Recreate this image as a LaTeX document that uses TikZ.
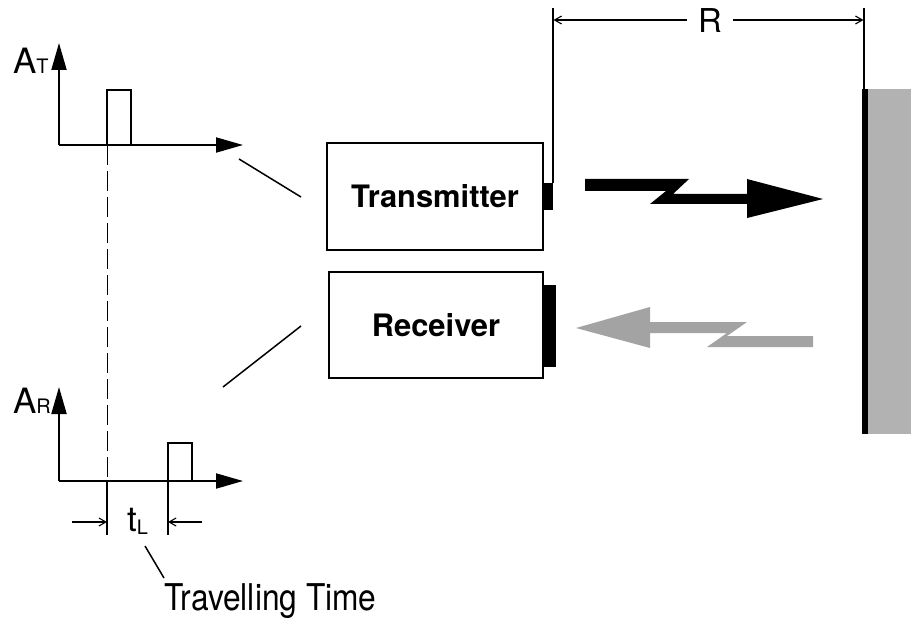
\documentclass[tikz,border=0pt]{standalone}
\usepackage{fontspec}
\usepackage{graphicx}
\setmainfont{TeX Gyre Heros}
\usetikzlibrary{arrows.meta}
\definecolor{sig}{gray}{0.64}
\definecolor{wallc}{gray}{0.70}
\begin{document}
\begin{tikzpicture}[x=1bp,y=-1bp,
  axis/.style={line width=2bp,-{Triangle[length=27bp,width=15bp]}},
  pulse/.style={line width=1.8bp},
  dim/.style={line width=1.1bp,-{Straight Barb[length=7bp,width=8bp]}},
  lead/.style={line width=1.5bp},
  box/.style={draw,line width=2bp,rectangle,inner sep=0pt,font=\fontsize{31}{36}\selectfont\bfseries},
  lbl/.style={inner sep=0pt,anchor=base west}]
\useasboundingbox (0,0) rectangle (911,618);
% ---- top graph
\coordinate (oT) at (59,145);
\coordinate (yT) at (59,43);
\coordinate (xT) at (243,145);
\draw[axis] (oT) -- (yT);
\draw[axis] (oT) -- (xT);
\draw[pulse] (107,145) -- (107,90) -- (131,90) -- (131,145);
\node[lbl] (AT) at (13,74) {\fontsize{35}{35}\selectfont A\fontsize{20}{20}\selectfont T};
% ---- bottom graph
\coordinate (oR) at (59,481);
\coordinate (yR) at (59,387);
\coordinate (xR) at (243,481);
\draw[axis] (oR) -- (yR);
\draw[axis] (oR) -- (xR);
\draw[pulse] (168,481) -- (168,443) -- (192,443) -- (192,481);
\node[lbl] (AR) at (13,413) {\fontsize{35}{35}\selectfont A\fontsize{20}{20}\selectfont R};
% ---- dashed time marker
\coordinate (d1) at (107,145);
\coordinate (d2) at (107,481);
\coordinate (d3) at (107,535);
\coordinate (e2) at (168,535);
\draw[line width=1bp,dash pattern=on 20bp off 6bp] (d1) -- (d2);
\draw[line width=1.3bp] (d2) -- (d3);
\draw[line width=1.3bp] (168,481) -- (e2);
\coordinate (la) at (72,522);
\coordinate (lb) at (107,522);
\coordinate (ra) at (202,522);
\coordinate (rb) at (168,522);
\draw[dim] (la) -- (lb);
\draw[dim] (ra) -- (rb);
\node[lbl] (tL) at (127,531) {\fontsize{35}{35}\selectfont t\raisebox{-3bp}{\fontsize{20}{20}\selectfont L}};
\coordinate (t1) at (145,546);
\coordinate (t2) at (164,578);
\draw[lead] (t1) -- (t2);
\node[lbl] (TT) at (164,610) {\scalebox{0.86}[1]{\fontsize{37}{37}\selectfont Travelling Time}};
% ---- boxes
\node[box,minimum width=216bp,minimum height=107bp] (tx) at (435,196.5) {Transmitter};
\node[box,minimum width=214bp,minimum height=106bp] (rx) at (436,325) {Receiver};
\fill (543,183) rectangle (553,210);
\fill (543,285) rectangle (556,367);
% leader lines
\coordinate (l1a) at (239,159);
\coordinate (l1b) at (301,197);
\coordinate (l2a) at (301,326);
\coordinate (l2b) at (223,387);
\draw[lead] (l1a) -- (l1b);
\draw[lead] (l2a) -- (l2b);
% ---- range R
\coordinate (r0) at (553,183);
\coordinate (r0t) at (553,8);
\coordinate (r1t) at (864,8);
\coordinate (r1) at (864,89);
\draw[line width=1.1bp] (r0) -- (r0t);
\draw[line width=1.1bp] (r1) -- (r1t);
\node[inner sep=0pt,anchor=base] (R) at (710,33) {\fontsize{33}{33}\selectfont R};
\draw[dim] (687,20) -- (553.5,20);
\draw[dim] (733,20) -- (863.5,20);
% ---- wall
\fill[wallc] (868,89) rectangle (911,434);
\fill (862,89) rectangle (868,434);
% ---- transmitted (black) arrow
\fill (585,179) -- (689,179) -- (673,194) -- (747,194) -- (747,179) -- (823,199)
  -- (747,218) -- (747,204) -- (650,204) -- (666,191) -- (585,191) -- cycle;
% ---- received (gray) arrow
\fill[sig] (576,328) -- (650,307) -- (650,322) -- (747,322) -- (727,336) -- (813,336)
  -- (813,347) -- (707,347) -- (727,333) -- (650,333) -- (650,348) -- cycle;
\end{tikzpicture}
\end{document}
